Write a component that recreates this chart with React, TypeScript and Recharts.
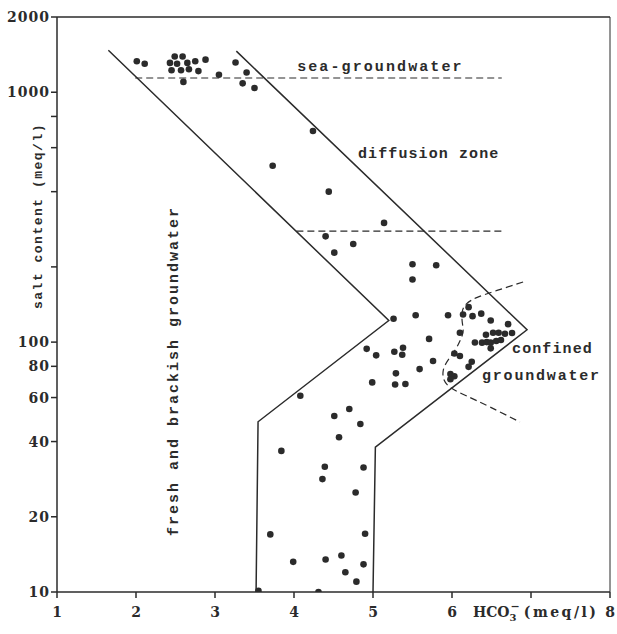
import React from 'react';
import { ScatterChart, Scatter, XAxis, YAxis, ReferenceLine, ReferenceDot } from 'recharts';

type Sample = { hco3: number; salt: number };

// Axis ticks
const xTicks = [1, 2, 3, 4, 5, 6, 7, 8];
const yTicks = [10, 20, 40, 60, 80, 100, 200, 400, 600, 800, 1000, 2000];
const yTickLabels: Record<number, string> = {
  10: '10', 20: '20', 40: '40', 60: '60', 80: '80', 100: '100', 1000: '1000', 2000: '2000',
};

// Samples: HCO3- (meq/l) against salt content (meq/l)
const seaZoneSamples: Sample[] = [
  { hco3: 2.01, salt: 1330 }, { hco3: 2.11, salt: 1300 }, { hco3: 2.49, salt: 1390 },
  { hco3: 2.59, salt: 1390 }, { hco3: 2.43, salt: 1310 }, { hco3: 2.52, salt: 1300 },
  { hco3: 2.65, salt: 1310 }, { hco3: 2.75, salt: 1330 }, { hco3: 2.88, salt: 1350 },
  { hco3: 2.45, salt: 1225 }, { hco3: 2.57, salt: 1225 }, { hco3: 2.67, salt: 1235 },
  { hco3: 2.79, salt: 1215 }, { hco3: 2.6, salt: 1100 }, { hco3: 3.05, salt: 1175 },
  { hco3: 3.26, salt: 1315 }, { hco3: 3.4, salt: 1200 }, { hco3: 3.35, salt: 1085 },
  { hco3: 3.5, salt: 1040 },
];

const diffusionZoneSamples: Sample[] = [
  { hco3: 4.24, salt: 700 }, { hco3: 3.73, salt: 508 }, { hco3: 4.44, salt: 400 },
  { hco3: 5.14, salt: 300 }, { hco3: 4.4, salt: 265 }, { hco3: 4.75, salt: 247 },
  { hco3: 4.51, salt: 228 }, { hco3: 5.5, salt: 205 }, { hco3: 5.8, salt: 203 },
  { hco3: 5.5, salt: 178 }, { hco3: 5.26, salt: 124 }, { hco3: 5.54, salt: 128 },
  { hco3: 5.95, salt: 128 }, { hco3: 5.71, salt: 103 }, { hco3: 4.92, salt: 94 },
  { hco3: 5.04, salt: 88.5 }, { hco3: 5.27, salt: 91.5 }, { hco3: 5.38, salt: 95 },
  { hco3: 5.37, salt: 89 }, { hco3: 5.76, salt: 84 }, { hco3: 5.59, salt: 78 },
  { hco3: 5.29, salt: 75 }, { hco3: 4.99, salt: 69 }, { hco3: 5.28, salt: 67.7 },
  { hco3: 5.41, salt: 68 }, { hco3: 4.08, salt: 61 },
];

const lowSaltSamples: Sample[] = [
  { hco3: 4.7, salt: 54 }, { hco3: 4.51, salt: 50.6 }, { hco3: 4.84, salt: 47 },
  { hco3: 4.57, salt: 41.6 }, { hco3: 3.84, salt: 36.7 }, { hco3: 4.39, salt: 31.7 },
  { hco3: 4.36, salt: 28.3 }, { hco3: 4.88, salt: 31.5 }, { hco3: 4.78, salt: 25 },
  { hco3: 3.7, salt: 17 }, { hco3: 4.9, salt: 17.1 }, { hco3: 3.99, salt: 13.2 },
  { hco3: 4.4, salt: 13.5 }, { hco3: 4.6, salt: 14 }, { hco3: 4.88, salt: 12.9 },
  { hco3: 4.65, salt: 12 }, { hco3: 4.79, salt: 11 }, { hco3: 3.55, salt: 10.1 },
  { hco3: 4.31, salt: 10 },
];

const confinedSamples: Sample[] = [
  { hco3: 6.21, salt: 138 }, { hco3: 6.14, salt: 129 }, { hco3: 6.26, salt: 127 },
  { hco3: 6.37, salt: 130 }, { hco3: 6.49, salt: 122 }, { hco3: 6.71, salt: 118 },
  { hco3: 6.1, salt: 109 }, { hco3: 6.43, salt: 107 }, { hco3: 6.52, salt: 109 },
  { hco3: 6.59, salt: 109 }, { hco3: 6.67, salt: 108 }, { hco3: 6.76, salt: 108.7 },
  { hco3: 6.29, salt: 99.7 }, { hco3: 6.38, salt: 99.5 }, { hco3: 6.44, salt: 100 },
  { hco3: 6.49, salt: 99.5 }, { hco3: 6.56, salt: 101 }, { hco3: 6.62, salt: 102 },
  { hco3: 6.49, salt: 94.4 }, { hco3: 6.03, salt: 90 }, { hco3: 6.1, salt: 88 },
  { hco3: 6.25, salt: 83.4 }, { hco3: 6.21, salt: 79.6 }, { hco3: 5.98, salt: 74.5 },
  { hco3: 6.03, salt: 73 }, { hco3: 5.98, salt: 71 },
];

// Zone boundaries
const freshBoundary: Sample[] = [
  { hco3: 1.65, salt: 1472 }, { hco3: 5.2, salt: 122 }, { hco3: 3.545, salt: 48 }, { hco3: 3.52, salt: 10 },
];
const seaBoundary: Sample[] = [
  { hco3: 3.27, salt: 1460 }, { hco3: 6.95, salt: 112 }, { hco3: 5.03, salt: 38 }, { hco3: 5.0, salt: 10 },
];
const seaGroundwaterLimit: Sample[] = [
  { hco3: 1.99, salt: 1140 }, { hco3: 6.63, salt: 1140 },
];
const diffusionLimit: Sample[] = [
  { hco3: 4.03, salt: 278 }, { hco3: 6.65, salt: 278 },
];
const confinedLimit: Sample[] = [
  { hco3: 6.9, salt: 174 }, { hco3: 6.57, salt: 161 }, { hco3: 6.32, salt: 151 },
  { hco3: 6.18, salt: 142 }, { hco3: 6.13, salt: 132 }, { hco3: 6.13, salt: 120 },
  { hco3: 6.14, salt: 110 }, { hco3: 6.1, salt: 101 }, { hco3: 6.04, salt: 93 },
  { hco3: 5.95, salt: 84.7 }, { hco3: 5.89, salt: 77.3 }, { hco3: 5.9, salt: 70.5 },
  { hco3: 5.99, salt: 65.5 }, { hco3: 6.19, salt: 60.8 }, { hco3: 6.48, salt: 55 },
  { hco3: 6.86, salt: 47.9 },
];

const INK = '#2b2b2b';
const TYPE_FONT = '"Liberation Mono", "Courier New", monospace';
const NUM_FONT = '"DejaVu Serif", "Liberation Serif", serif';

const SampleDot = (p: any) => <circle cx={p.cx} cy={p.cy} r={3.3} fill={INK} />;
const NoMarker = () => <g />;

const XTick = (p: any) => {
  const { x, y, payload } = p;
  if (payload.value === 7) {
    return (
      <text x={x - 58} y={y + 11} fontFamily={NUM_FONT} fontWeight="bold" fontSize={14} fill={INK}>
        <tspan>HCO</tspan>
        <tspan fontSize={10} dy={4}>3</tspan>
        <tspan fontSize={11} dx={-6} dy={-11}>−</tspan>
        <tspan dx={4} dy={7} letterSpacing={2.5}>(meq/l)</tspan>
      </text>
    );
  }
  return (
    <text x={x} y={y + 11} textAnchor="middle" fontFamily={NUM_FONT} fontWeight="bold" fontSize={14} fill={INK}>
      {payload.value}
    </text>
  );
};

const YTick = (p: any) => {
  const { x, y, payload } = p;
  const label = yTickLabels[payload.value];
  if (!label) return <g />;
  return (
    <text x={x} y={y} dy="0.36em" textAnchor="end" fontFamily={NUM_FONT} fontWeight="bold" fontSize={14} letterSpacing={1} fill={INK}>
      {label}
    </text>
  );
};

const YTitle = (p: any) => {
  const vb = p.viewBox || { x: 0, y: 0, width: 0, height: 0 };
  const cx = vb.x + 42;
  const cy = vb.y + 199;
  return (
    <text x={cx} y={cy} transform={`rotate(-90 ${cx} ${cy})`} textAnchor="middle" fontFamily={TYPE_FONT} fontWeight="bold" fontSize={13} letterSpacing={1.5} fill={INK}>
      salt content (meq/l)
    </text>
  );
};

const zoneText = (text: string, spacing: number, rotated = false) => (p: any) => (
  <text
    x={p.cx}
    y={p.cy}
    textAnchor={rotated ? 'middle' : 'start'}
    transform={rotated ? `rotate(-90 ${p.cx} ${p.cy})` : undefined}
    fontFamily={TYPE_FONT}
    fontWeight="bold"
    fontSize={15}
    letterSpacing={spacing}
    fill={INK}
  >
    {text}
  </text>
);

const lineStyle = { stroke: INK, strokeWidth: 1.5 };
const dashStyle = { stroke: INK, strokeWidth: 1.2, strokeDasharray: '7 4' };

export default function App() {
  return (
    <div style={{ position: 'fixed', left: 0, top: 0, width: 617, height: 634, background: '#fff' }}>
      <ScatterChart width={617} height={634} margin={{ top: 17, right: 7, bottom: 12, left: 0 }}>
        <XAxis
          type="number"
          dataKey="hco3"
          domain={[1, 8]}
          ticks={xTicks}
          interval={0}
          allowDataOverflow
          height={30}
          stroke={INK}
          strokeWidth={1.5}
          tickSize={6}
          tickMargin={8}
          tick={<XTick />}
        />
        <YAxis
          type="number"
          dataKey="salt"
          scale="log"
          domain={[10, 2000]}
          ticks={yTicks}
          interval={0}
          allowDataOverflow
          width={57}
          stroke={INK}
          strokeWidth={1.5}
          tickSize={6}
          tickMargin={1}
          tick={<YTick />}
          label={{ content: YTitle }}
        />
        <ReferenceLine y={2000} stroke={INK} strokeWidth={1.5} />
        <ReferenceLine x={8} stroke={INK} strokeWidth={1} />

        <Scatter data={freshBoundary} line={lineStyle} shape={NoMarker} isAnimationActive={false} />
        <Scatter data={seaBoundary} line={lineStyle} shape={NoMarker} isAnimationActive={false} />
        <Scatter data={seaGroundwaterLimit} line={dashStyle} shape={NoMarker} isAnimationActive={false} />
        <Scatter data={diffusionLimit} line={dashStyle} shape={NoMarker} isAnimationActive={false} />
        <Scatter data={confinedLimit} line={dashStyle} lineJointType="natural" shape={NoMarker} isAnimationActive={false} />

        <Scatter data={seaZoneSamples} shape={SampleDot} isAnimationActive={false} />
        <Scatter data={diffusionZoneSamples} shape={SampleDot} isAnimationActive={false} />
        <Scatter data={lowSaltSamples} shape={SampleDot} isAnimationActive={false} />
        <Scatter data={confinedSamples} shape={SampleDot} isAnimationActive={false} />

        <ReferenceDot x={4.04} y={1214} r={0} shape={zoneText('sea-groundwater', 2.1)} />
        <ReferenceDot x={4.81} y={544} r={0} shape={zoneText('diffusion zone', 1.1)} />
        <ReferenceDot x={6.76} y={90.4} r={0} shape={zoneText('confined', 1.1)} />
        <ReferenceDot x={6.38} y={70.5} r={0} shape={zoneText('groundwater', 1.8)} />
        <ReferenceDot x={2.53} y={76.6} r={0} shape={zoneText('fresh and brackish groundwater', 2, true)} />
      </ScatterChart>
    </div>
  );
}
